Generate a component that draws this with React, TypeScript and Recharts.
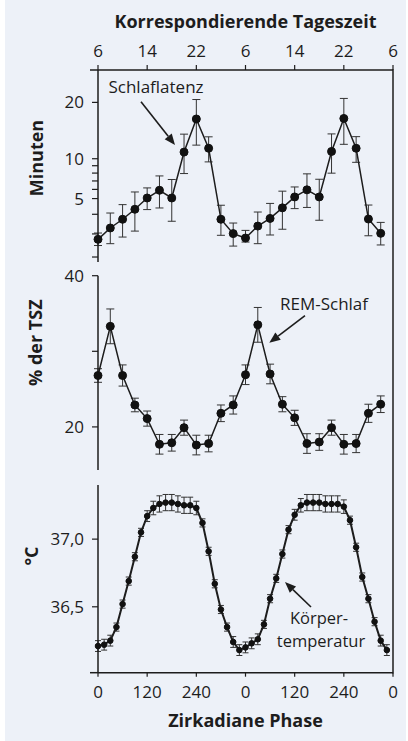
import React from 'react'
import { LineChart, Line, XAxis, YAxis, ErrorBar } from 'recharts'

// x positions (circadian phase, degrees over two cycles)
const PHASES_30 = [0, 30, 60, 90, 120, 150, 180, 210, 240, 270, 300, 330, 360, 390, 420, 450, 480, 510, 540, 570, 600, 630, 660, 690]
const PHASES_15 = [
  0, 15, 30, 45, 60, 75, 90, 105, 120, 135, 150, 165, 180, 195, 210, 225, 240, 255, 270, 285, 300, 315, 330, 345,
  360, 375, 390, 405, 420, 435, 450, 465, 480, 495, 510, 525, 540, 555, 570, 585, 600, 615, 630, 645, 660, 675, 690, 705,
]
const PHASE_TICKS = [0, 120, 240, 360, 480, 600, 720]
const PHASE_LABELS = ['0', '120', '240', '0', '120', '240', '0']
const HOUR_LABELS = ['6', '14', '22', '6', '14', '22', '6']

// Schlaflatenz (Minuten)
const LATENCY = [1.66, 2.41, 3.08, 3.95, 5.06, 5.9, 5.06, 11.0, 16.7, 11.6, 3.08, 2.02, 1.74, 2.55, 3.15, 4.08, 5.17, 5.95, 5.17, 11.1, 16.8, 11.6, 3.1, 2.04]
const LATENCY_ERR = [
  [0.35, 0.4], [1.0, 1.2], [1.28, 1.31], [1.76, 1.76], [1.14, 1.11], [1.83, 1.73], [2.14, 2.12], [3.06, 2.94],
  [4.6, 3.9], [2.06, 1.88], [1.17, 1.25], [0.74, 0.76], [0.24, 0.5], [1.14, 1.15], [1.22, 1.36], [1.76, 1.72],
  [1.16, 1.11], [1.83, 1.95], [2.17, 2.04], [3.11, 2.88], [4.57, 4.03], [2.12, 1.91], [1.22, 1.25], [0.7, 0.79],
]
const LATENCY_TICKS = [0.77, 2, 3.5, 5, 6, 7, 8, 9, 10, 20]
const LATENCY_LABELS = ['', '', '', '5', '', '', '', '', '10', '20']

// REM-Schlaf (% der TSZ)
const REM = [26.8, 33.3, 26.8, 22.9, 21.1, 17.7, 17.9, 19.9, 17.6, 17.8, 21.8, 22.9, 26.9, 33.5, 27.0, 23.0, 21.2, 17.8, 18.0, 19.9, 17.7, 17.8, 21.8, 23.0]
const REM_ERR = [0.9, 2.3, 1.4, 0.9, 1.0, 1.3, 1.1, 1.0, 1.3, 1.1, 1.1, 1.2, 1.3, 2.3, 1.3, 1.0, 1.0, 1.3, 1.1, 1.0, 1.3, 1.2, 1.2, 1.1]
const REM_TICKS = [20, 30, 40]
const REM_LABELS = ['20', '', '40']

// Körpertemperatur (°C)
const TEMP = [
  36.21, 36.22, 36.25, 36.35, 36.52, 36.69, 36.87, 37.05, 37.17, 37.23, 37.26, 37.27,
  37.27, 37.26, 37.25, 37.25, 37.23, 37.12, 36.91, 36.67, 36.48, 36.35, 36.24, 36.18,
  36.2, 36.23, 36.26, 36.37, 36.56, 36.71, 36.89, 37.07, 37.18, 37.25, 37.27, 37.27,
  37.27, 37.26, 37.26, 37.26, 37.24, 37.14, 36.94, 36.72, 36.56, 36.39, 36.25, 36.18,
]
const TEMP_ERR = [
  0.04, 0.04, 0.04, 0.03, 0.03, 0.03, 0.03, 0.03, 0.04, 0.05, 0.06, 0.06,
  0.06, 0.06, 0.06, 0.06, 0.05, 0.03, 0.03, 0.03, 0.03, 0.03, 0.04, 0.04,
  0.04, 0.04, 0.04, 0.03, 0.03, 0.03, 0.03, 0.03, 0.04, 0.05, 0.06, 0.06,
  0.06, 0.06, 0.06, 0.06, 0.05, 0.03, 0.03, 0.03, 0.03, 0.03, 0.04, 0.04,
]
const TEMP_TICKS = [36.5, 37.0]
const TEMP_LABELS = ['36,5', '37,0']

const latencyData = PHASES_30.map((phase, i) => ({ phase, v: LATENCY[i], err: LATENCY_ERR[i] }))
const remData = PHASES_30.map((phase, i) => ({ phase, v: REM[i], err: REM_ERR[i] }))
const tempData = PHASES_15.map((phase, i) => ({ phase, v: TEMP[i], err: TEMP_ERR[i] }))

const FONT = "'Open Sans', sans-serif"
const INK = '#1d1d1d'
const BG = '#edf1f8'

const tickStyle = { fontSize: 17, fill: INK, fontFamily: FONT }
const axisLine = { stroke: INK, strokeWidth: 1.5 }
const tickLine = { stroke: INK, strokeWidth: 1.2 }

const labelOf = (ticks: number[], labels: string[]) => (v: number) => labels[ticks.indexOf(v)] ?? ''

// rotated y-axis title, baseline at bx, centred dy below the plot top
const sideLabel = (text: string, bx: number, dy: number) => (props: any) => {
  const y = props.viewBox.y + dy
  return (
    <text x={bx} y={y} transform={`rotate(-90 ${bx} ${y})`} textAnchor="middle"
      fontSize={18} fontWeight={700} fill={INK} fontFamily={FONT}>
      {text}
    </text>
  )
}

function Arrow({ x1, y1, x2, y2 }: { x1: number; y1: number; x2: number; y2: number }) {
  const a = Math.atan2(y2 - y1, x2 - x1)
  const len = 11
  const half = 4.5
  const bx = x2 - len * Math.cos(a)
  const by = y2 - len * Math.sin(a)
  const p1 = `${bx + half * Math.sin(a)},${by - half * Math.cos(a)}`
  const p2 = `${bx - half * Math.sin(a)},${by + half * Math.cos(a)}`
  return (
    <g>
      <line x1={x1} y1={y1} x2={bx} y2={by} stroke={INK} strokeWidth={1.6} />
      <polygon points={`${x2},${y2} ${p1} ${p2}`} fill={INK} />
    </g>
  )
}

const dotBig = { r: 4, fill: '#111', stroke: '#111', strokeWidth: 1 }
const dotSmall = { r: 2.8, fill: '#111', stroke: '#111', strokeWidth: 1 }

export default function App() {
  const annText = { fontSize: 17, fill: INK, fontFamily: FONT }
  return (
    <div style={{ position: 'absolute', left: 0, top: 0, width: 408, height: 741, background: '#fff', overflow: 'hidden' }}>
      <div style={{ position: 'absolute', left: 5, top: 0, width: 401, height: 741, background: BG }} />

      {/* Schlaflatenz */}
      <div style={{ position: 'absolute', left: 0, top: 0 }}>
        <LineChart width={408} height={262} data={latencyData} margin={{ top: 10, right: 15, left: 28, bottom: 0 }}>
          <XAxis
            type="number" dataKey="phase" orientation="top" domain={[0, 720]} ticks={PHASE_TICKS} interval={0}
            height={60} tickSize={5} tickMargin={8} tick={tickStyle} axisLine={axisLine} tickLine={tickLine}
            tickFormatter={labelOf(PHASE_TICKS, HOUR_LABELS)}
            label={{ value: 'Korrespondierende Tageszeit', position: 'insideTop', offset: 5, fontSize: 18, fontWeight: 700, fill: INK, fontFamily: FONT }}
          />
          <YAxis
            type="number" scale="sqrt" domain={[0.58, 27.3]} allowDataOverflow ticks={LATENCY_TICKS} interval={0}
            width={70} tickSize={6} tickMargin={8} tick={tickStyle} axisLine={axisLine} tickLine={tickLine}
            tickFormatter={labelOf(LATENCY_TICKS, LATENCY_LABELS)}
            label={{ content: sideLabel('Minuten', 43, 88) }}
          />
          <Line type="linear" dataKey="v" stroke={INK} strokeWidth={1.5} dot={dotBig} isAnimationActive={false}>
            <ErrorBar dataKey="err" width={4} stroke="#333" strokeWidth={1} direction="y" isAnimationActive={false} />
          </Line>
        </LineChart>
      </div>

      {/* REM-Schlaf */}
      <div style={{ position: 'absolute', left: 0, top: 262 }}>
        <LineChart width={408} height={208} data={remData} margin={{ top: 13.7, right: 15, left: 28, bottom: 0 }}>
          <XAxis type="number" dataKey="phase" domain={[0, 720]} hide />
          <YAxis
            type="number" domain={[14.3, 40]} allowDataOverflow ticks={REM_TICKS} interval={0}
            width={70} tickSize={6} tickMargin={8} tick={tickStyle} axisLine={axisLine} tickLine={tickLine}
            tickFormatter={labelOf(REM_TICKS, REM_LABELS)}
            label={{ content: sideLabel('% der TSZ', 42, 67) }}
          />
          <Line type="linear" dataKey="v" stroke={INK} strokeWidth={1.5} dot={dotBig} isAnimationActive={false}>
            <ErrorBar dataKey="err" width={4} stroke="#333" strokeWidth={1} direction="y" isAnimationActive={false} />
          </Line>
        </LineChart>
      </div>

      {/* Körpertemperatur */}
      <div style={{ position: 'absolute', left: 0, top: 470 }}>
        <LineChart width={408} height={271} data={tempData} margin={{ top: 15, right: 15, left: 28, bottom: 0 }}>
          <XAxis
            type="number" dataKey="phase" domain={[0, 720]} ticks={PHASE_TICKS} interval={0}
            height={68.3} tickSize={4} tickMargin={9} tick={tickStyle} axisLine={axisLine} tickLine={tickLine}
            tickFormatter={labelOf(PHASE_TICKS, PHASE_LABELS)}
            label={{ value: 'Zirkadiane Phase', position: 'insideBottom', offset: 14, fontSize: 18, fontWeight: 700, fill: INK, fontFamily: FONT }}
          />
          <YAxis
            type="number" domain={[36.013, 37.4]} allowDataOverflow ticks={TEMP_TICKS} interval={0}
            width={70} tickSize={6} tickMargin={8} tick={tickStyle} axisLine={axisLine} tickLine={tickLine}
            tickFormatter={labelOf(TEMP_TICKS, TEMP_LABELS)}
            label={{ content: sideLabel('°C', 37.5, 71) }}
          />
          <Line type="linear" dataKey="v" stroke={INK} strokeWidth={2} dot={dotSmall} isAnimationActive={false}>
            <ErrorBar dataKey="err" width={3} stroke="#333" strokeWidth={1} direction="y" isAnimationActive={false} />
          </Line>
        </LineChart>
      </div>

      {/* frame and annotations */}
      <svg width={408} height={741} style={{ position: 'absolute', left: 0, top: 0, pointerEvents: 'none' }}>
        <line x1={393} y1={69.3} x2={393} y2={673.4} stroke={INK} strokeWidth={1.5} />
        <line x1={90} y1={70} x2={98} y2={70} stroke={INK} strokeWidth={1.5} />
        <line x1={90} y1={672.7} x2={98} y2={672.7} stroke={INK} strokeWidth={1.5} />

        <text x={156} y={93} textAnchor="middle" {...annText}>Schlaflatenz</text>
        <Arrow x1={141} y1={101.7} x2={175} y2={145} />

        <text x={324} y={309.5} textAnchor="middle" {...annText}>REM-Schlaf</text>
        <Arrow x1={305} y1={315.7} x2={269.3} y2={342.7} />

        <text x={319} y={624} textAnchor="middle" {...annText} fontSize={16.5}>Körper-</text>
        <text x={321} y={646.5} textAnchor="middle" {...annText} fontSize={16.5}>temperatur</text>
        <Arrow x1={311} y1={607} x2={285} y2={582} />
      </svg>
    </div>
  )
}
